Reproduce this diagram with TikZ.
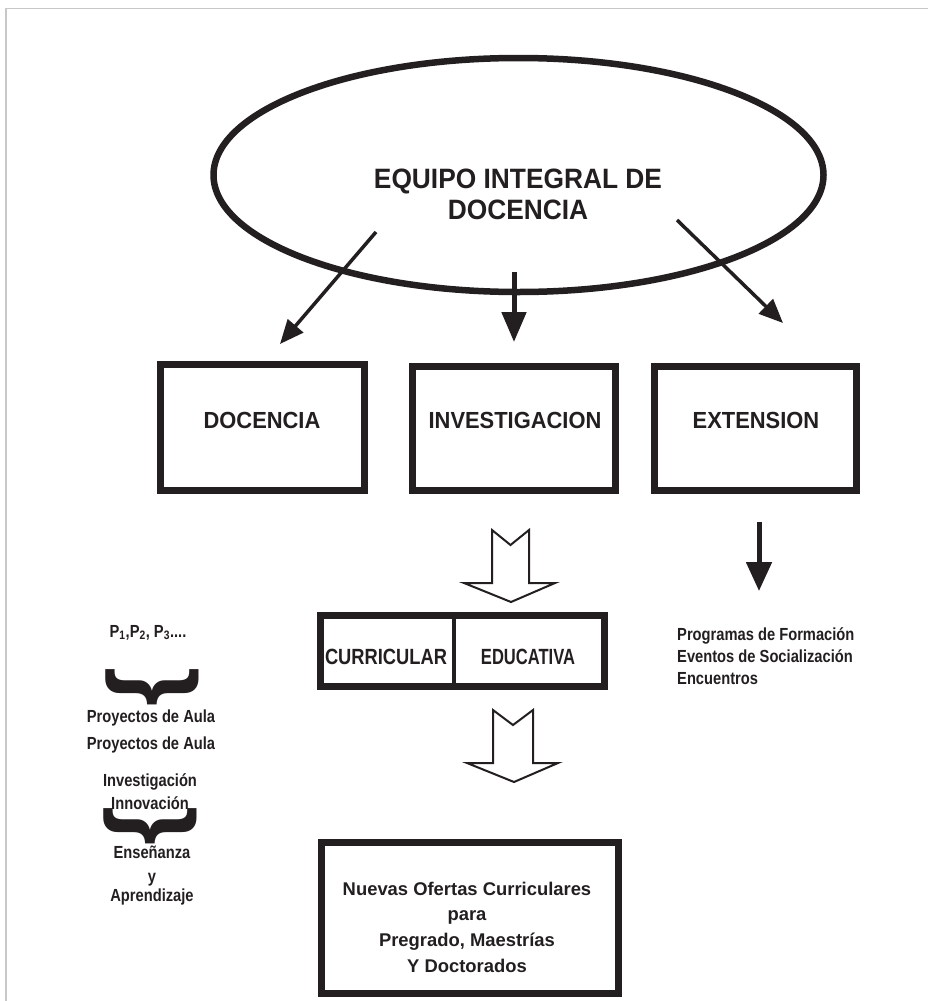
\documentclass[tikz,border=0pt]{standalone}
\usepackage{fontspec}
\setmainfont{Liberation Sans}
\newfontfamily\capsfont[FakeStretch=0.94]{Liberation Sans}
\newfontfamily\narfont[FakeStretch=0.84]{Liberation Sans}
\usetikzlibrary{arrows.meta,shapes.geometric}
\definecolor{ink}{HTML}{231F20}
\definecolor{framegrey}{HTML}{C8C8C8}
\begin{document}
\begin{tikzpicture}[x=1pt,y=-1pt,
  box/.style={draw=ink, line width=7pt, inner sep=0pt, fill=white},
  bigcap/.style={font=\capsfont\bfseries\fontsize{28}{31}\selectfont, text=ink, inner sep=0pt, anchor=base},
  captext/.style={font=\capsfont\bfseries\fontsize{23.3}{26}\selectfont, text=ink, inner sep=0pt, anchor=base},
  smalltext/.style={font=\narfont\bfseries\fontsize{17.5}{21.5}\selectfont, text=ink, inner sep=0pt, anchor=base},
  boxtext/.style={font=\bfseries\fontsize{18.4}{26}\selectfont, text=ink, inner sep=0pt, anchor=base},
  thinarrow/.style={draw=ink, line width=3.5pt, -{Triangle[length=24pt,width=20pt]}},
  thickarrow/.style={draw=ink, line width=5pt, -{Triangle[length=30pt,width=24pt]}},
  hollow/.style={draw=ink, line width=2pt, fill=white, line join=miter},
  bracestyle/.style={rotate=-90, inner sep=0pt, font=\bfseries\fontsize{100}{100}\selectfont, text=ink}
]
\useasboundingbox (0,0) rectangle (928,1001);
% frame
\draw[framegrey, line width=1.7pt] (6,1001) -- (6,8.5) -- (928,8.5);

% ellipse
\node[draw=ink, line width=6.5pt, ellipse, minimum width=610pt, minimum height=234pt, inner sep=0pt] (eq) at (518.5,175) {};
\node[bigcap] (eqt1) at (518,188) {EQUIPO INTEGRAL DE};
\node[bigcap] (eqt2) at (518,219) {DOCENCIA};

% boxes
\node[box, minimum width=204pt, minimum height=126pt] (doc) at (262.5,427.5) {};
\node[captext] (doct) at (262,428.4) {DOCENCIA};
\node[box, minimum width=203pt, minimum height=124pt] (inv) at (514,428.5) {};
\node[captext] (invt) at (515,428.4) {INVESTIGACION};
\node[box, minimum width=202pt, minimum height=124pt] (ext) at (755.5,428.5) {};
\node[captext] (extt) at (756,428.4) {EXTENSION};

% arrows from ellipse
\coordinate (la1) at (376,232); \coordinate (la2) at (280,344);
\coordinate (ma1) at (514,272); \coordinate (ma2) at (514,342);
\coordinate (ra1) at (677,220); \coordinate (ra2) at (783,323);
\draw[thinarrow] (la1) -- (la2);
\draw[thickarrow] (ma1) -- (ma2);
\draw[thinarrow] (ra1) -- (ra2);

% hollow arrow 1
\draw[hollow] (492,530) -- (510.5,545) -- (529,530) -- (529,583) -- (555,583) -- (511,602) -- (464,583) -- (492,583) -- cycle;

% curricular / educativa box
\node[box, minimum width=284pt, minimum height=71pt] (cur) at (462.5,651) {};
\draw[draw=ink, line width=3.5pt] (454,615.5) -- (454,686.5);
\node[captext, font=\capsfont\bfseries\fontsize{22}{26}\selectfont] (curt) at (386,664) {\scalebox{0.885}[1]{CURRICULAR}};
\node[captext, font=\capsfont\bfseries\fontsize{22}{26}\selectfont] (edut) at (528,664) {\scalebox{0.8}[1]{EDUCATIVA}};

% hollow arrow 2
\draw[hollow] (493,710) -- (513,725) -- (533,710) -- (533,763) -- (558,763) -- (514,782) -- (467,763) -- (493,763) -- cycle;

% bottom box
\node[box, minimum width=297pt, minimum height=151pt] (nue) at (470,918) {};
\node[boxtext] (n1) at (467,895) {Nuevas Ofertas Curriculares};
\node[boxtext] (n2) at (467,920.7) {para};
\node[boxtext] (n3) at (467,946.4) {Pregrado, Maestrías};
\node[boxtext] (n4) at (467,972) {Y Doctorados};

% right column
\coordinate (xa1) at (759,522); \coordinate (xa2) at (759,591);
\draw[draw=ink, line width=5pt, -{Triangle[length=29pt,width=25pt]}] (xa1) -- (xa2);
\node[smalltext, anchor=base west] (r1) at (677,640.7) {Programas de Formación};
\node[smalltext, anchor=base west] (r2) at (677,662.7) {Eventos de Socialización};
\node[smalltext, anchor=base west] (r3) at (677,684) {Encuentros};

% left column
\node[smalltext] (p) at (148,637.3) {P\textsubscript{1},P\textsubscript{2}, P\textsubscript{3}....};
\node[bracestyle] (br1) at (152,687) {\}};
\node[smalltext] (l1) at (151,722.3) {Proyectos de Aula};
\node[smalltext] (l2) at (151,749) {Proyectos de Aula};
\node[smalltext] (l3) at (150,786) {Investigación};
\node[smalltext] (l4) at (150,809.3) {Innovación};
\node[bracestyle] (br2) at (150,826) {\}};
\node[smalltext] (l5) at (152,858.3) {Enseñanza};
\node[smalltext] (l6) at (152,882.5) {y};
\node[smalltext] (l7) at (152,901.7) {Aprendizaje};
\end{tikzpicture}
\end{document}
